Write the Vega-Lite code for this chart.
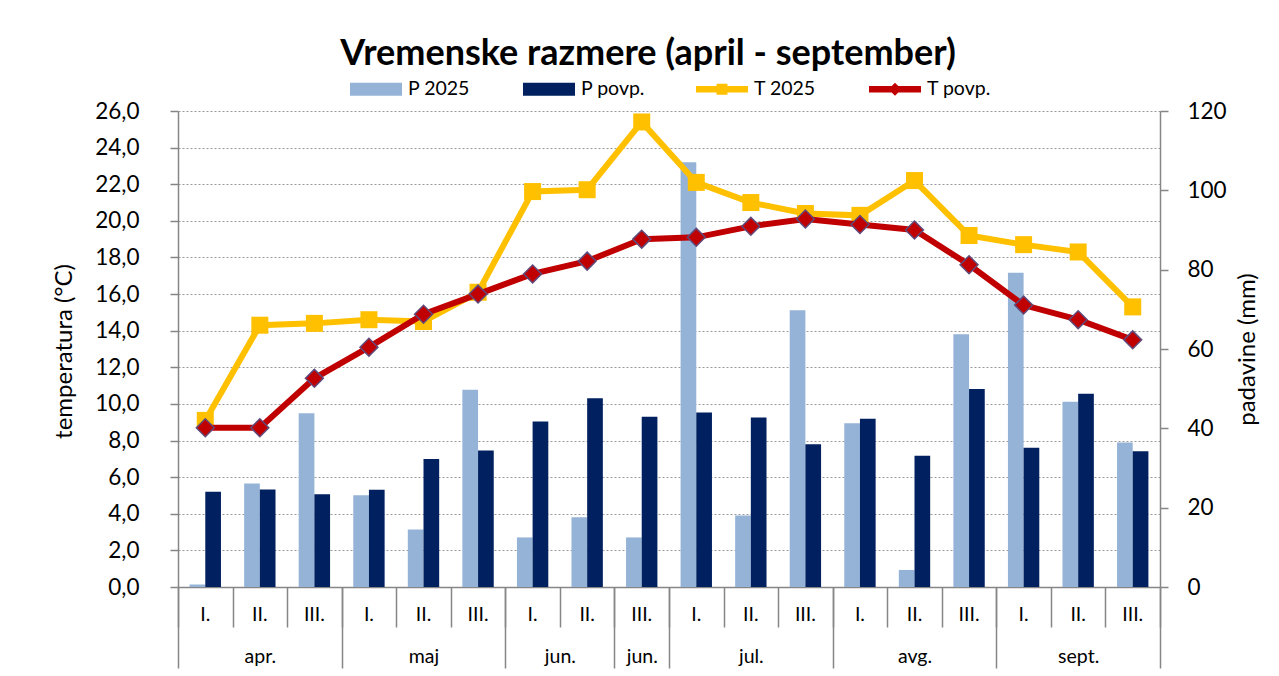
{
  "$schema": "https://vega.github.io/schema/vega-lite/v6.json",
  "width": 982,
  "height": 476,
  "autosize": "none",
  "padding": {"left": 178, "top": 111, "right": 119, "bottom": 89},
  "background": "white",
  "config": {"font": "Lato", "view": {"stroke": null}},
  "title": {"text": "Vremenske razmere (april -  september)", "fontSize": 36, "fontWeight": "bold", "color": "black", "anchor": "middle", "dx": -21, "offset": 3},
  "data": {"values": [
    {"dekada": "apr. I.", "P2025": 0.6, "Ppovp": 24.0, "T2025": 9.1, "Tpovp": 8.7},
    {"dekada": "apr. II.", "P2025": 26.1, "Ppovp": 24.6, "T2025": 14.3, "Tpovp": 8.7},
    {"dekada": "apr. III.", "P2025": 43.8, "Ppovp": 23.4, "T2025": 14.4, "Tpovp": 11.4},
    {"dekada": "maj I.", "P2025": 23.1, "Ppovp": 24.5, "T2025": 14.6, "Tpovp": 13.1},
    {"dekada": "maj II.", "P2025": 14.5, "Ppovp": 32.3, "T2025": 14.5, "Tpovp": 14.9},
    {"dekada": "maj III.", "P2025": 49.7, "Ppovp": 34.4, "T2025": 16.1, "Tpovp": 16.0},
    {"dekada": "jun. I.", "P2025": 12.5, "Ppovp": 41.7, "T2025": 21.6, "Tpovp": 17.1},
    {"dekada": "jun. II.", "P2025": 17.6, "Ppovp": 47.6, "T2025": 21.7, "Tpovp": 17.8},
    {"dekada": "jun. III.", "P2025": 12.5, "Ppovp": 42.9, "T2025": 25.4, "Tpovp": 19.0},
    {"dekada": "jul. I.", "P2025": 107.1, "Ppovp": 44.0, "T2025": 22.1, "Tpovp": 19.1},
    {"dekada": "jul. II.", "P2025": 18.0, "Ppovp": 42.7, "T2025": 21.0, "Tpovp": 19.7},
    {"dekada": "jul. III.", "P2025": 69.8, "Ppovp": 36.0, "T2025": 20.4, "Tpovp": 20.1},
    {"dekada": "avg. I.", "P2025": 41.3, "Ppovp": 42.4, "T2025": 20.3, "Tpovp": 19.8},
    {"dekada": "avg. II.", "P2025": 4.3, "Ppovp": 33.1, "T2025": 22.2, "Tpovp": 19.5},
    {"dekada": "avg. III.", "P2025": 63.7, "Ppovp": 49.9, "T2025": 19.2, "Tpovp": 17.6},
    {"dekada": "sept. I.", "P2025": 79.2, "Ppovp": 35.1, "T2025": 18.7, "Tpovp": 15.4},
    {"dekada": "sept. II.", "P2025": 46.7, "Ppovp": 48.7, "T2025": 18.3, "Tpovp": 14.6},
    {"dekada": "sept. III.", "P2025": 36.4, "Ppovp": 34.2, "T2025": 15.3, "Tpovp": 13.5}
  ]},
  "resolve": {"scale": {"x": "independent", "y": "independent"}, "axis": {"x": "independent", "y": "independent"}},
  "layer": [
    {
      "transform": [{"fold": ["P2025", "Ppovp"], "as": ["serija", "padavine"]}],
      "mark": {"type": "bar"},
      "encoding": {
        "x": {"field": "dekada", "type": "nominal", "sort": null,
          "scale": {"paddingInner": 0.425, "paddingOuter": 0.2125},
          "axis": {"orient": "bottom", "title": null, "labelExpr": "split(datum.label, ' ')[1]", "tickSize": 40, "tickOpacity": 0, "domainColor": "#868686", "domainWidth": 1.5, "labelFontSize": 19.5, "labelColor": "black", "labelBaseline": "middle", "labelPadding": -13, "labelAngle": 0, "grid": false}},
        "xOffset": {"field": "serija", "type": "nominal", "scale": {"domain": ["P2025", "Ppovp"]}},
        "y": {"field": "padavine", "type": "quantitative", "scale": {"domain": [0, 120], "nice": false},
          "axis": {"orient": "right", "values": [0, 20, 40, 60, 80, 100, 120], "title": "padavine (mm)", "grid": false, "domainColor": "#868686", "domainWidth": 1.5, "tickColor": "#868686", "tickWidth": 1.5, "tickSize": 8, "labelPadding": 19, "labelFontSize": 22.5, "labelColor": "black", "titleFontSize": 24, "titleFontWeight": "normal", "titleColor": "black", "titleAngle": 270, "titleX": 87, "titleY": 238, "titleAlign": "center", "titleBaseline": "middle"}},
        "color": {"field": "serija", "type": "nominal",
          "scale": {"domain": ["P2025", "Ppovp", "T2025", "Tpovp"], "range": ["#95B3D7", "#002060", "#FFC000", "#C00000"]},
          "legend": {"orient": "none", "legendX": 172, "legendY": -35, "direction": "horizontal", "columns": 4, "title": null, "gridAlign": "all", "columnPadding": 50, "symbolSize": 676, "symbolOffset": 13, "labelOffset": 19, "labelFontSize": 19.5, "labelColor": "black",
            "labelExpr": "datum.label == 'P2025' ? 'P 2025' : datum.label == 'Ppovp' ? 'P povp.' : datum.label == 'T2025' ? 'T 2025' : 'T povp.'",
            "encode": {"symbols": {"update": {"shape": {"signal": "datum.value == 'T2025' ? 'M-2,-0.25H2V0.25H-2Z M-0.42,-0.42H0.42V0.42H-0.42Z' : datum.value == 'Tpovp' ? 'M-2,-0.25H2V0.25H-2Z M0,-0.5L0.5,0L0,0.5L-0.5,0Z' : 'M-2,-0.5H2V0.5H-2Z'"}, "strokeWidth": {"value": 0}}}}}}
      }
    },
    {
      "layer": [
        {
          "mark": {"type": "line", "color": "#FFC000", "strokeWidth": 6, "point": {"shape": "square", "size": 289, "filled": true, "fill": "#FFC000"}},
          "encoding": {
            "x": {"field": "dekada", "type": "nominal", "sort": null, "scale": {"paddingInner": 0.425, "paddingOuter": 0.2125}, "axis": null},
            "y": {"field": "T2025", "type": "quantitative", "scale": {"domain": [0, 26], "nice": false},
              "axis": {"orient": "left", "values": [0, 2, 4, 6, 8, 10, 12, 14, 16, 18, 20, 22, 24, 26], "labelExpr": "replace(format(datum.value, '.1f'), '.', ',')", "title": "temperatura (°C)", "grid": true, "gridColor": "#999999", "gridDash": [2, 2], "gridWidth": 1, "domainColor": "#868686", "domainWidth": 1.5, "tickColor": "#868686", "tickWidth": 1.5, "tickSize": 8, "labelPadding": 31, "labelFontSize": 22.5, "labelColor": "black", "titleFontSize": 24, "titleFontWeight": "normal", "titleColor": "black", "titleAngle": 270, "titleX": -114, "titleY": 240, "titleAlign": "center", "titleBaseline": "middle"}}
          }
        },
        {
          "mark": {"type": "line", "color": "#C00000", "strokeWidth": 6, "point": {"shape": "diamond", "size": 320, "filled": true, "fill": "#C00000", "stroke": "#604A7B", "strokeWidth": 1.5}},
          "encoding": {
            "x": {"field": "dekada", "type": "nominal", "sort": null, "scale": {"paddingInner": 0.425, "paddingOuter": 0.2125}, "axis": null},
            "y": {"field": "Tpovp", "type": "quantitative", "scale": {"domain": [0, 26], "nice": false},
              "axis": {"orient": "left", "values": [0, 2, 4, 6, 8, 10, 12, 14, 16, 18, 20, 22, 24, 26], "labelExpr": "replace(format(datum.value, '.1f'), '.', ',')", "title": "temperatura (°C)", "grid": true, "gridColor": "#999999", "gridDash": [2, 2], "gridWidth": 1, "domainColor": "#868686", "domainWidth": 1.5, "tickColor": "#868686", "tickWidth": 1.5, "tickSize": 8, "labelPadding": 31, "labelFontSize": 22.5, "labelColor": "black", "titleFontSize": 24, "titleFontWeight": "normal", "titleColor": "black", "titleAngle": 270, "titleX": -114, "titleY": 240, "titleAlign": "center", "titleBaseline": "middle"}}
          }
        }
      ]
    },
    {
      "mark": {"type": "point", "opacity": 0},
      "encoding": {
        "x": {"datum": 0, "type": "quantitative", "scale": {"domain": [0, 18], "nice": false, "zero": false},
          "axis": {"orient": "bottom", "title": null, "values": [1.5, 4.5, 7, 8.5, 10.5, 13.5, 16.5], "labelExpr": "datum.value == 1.5 ? 'apr.' : datum.value == 4.5 ? 'maj' : datum.value == 7 ? 'jun.' : datum.value == 8.5 ? 'jun.' : datum.value == 10.5 ? 'jul.' : datum.value == 13.5 ? 'avg.' : 'sept.'", "ticks": false, "tickSize": 0, "domain": false, "grid": false, "labelPadding": 69, "labelBaseline": "middle", "labelFontSize": 19.5, "labelColor": "black", "labelAngle": 0, "labelFlush": false, "labelOverlap": false}}
      }
    },
    {
      "mark": {"type": "point", "opacity": 0},
      "encoding": {
        "x": {"datum": 0, "type": "quantitative", "scale": {"domain": [0, 18], "nice": false, "zero": false},
          "axis": {"orient": "bottom", "title": null, "values": [0, 1, 2, 3, 4, 5, 6, 7, 8, 9, 10, 11, 12, 13, 14, 15, 16, 17, 18], "labels": false, "domain": false, "grid": false, "ticks": true, "tickSize": 40, "tickColor": "#868686", "tickWidth": 1.5}}
      }
    },
    {
      "mark": {"type": "point", "opacity": 0},
      "encoding": {
        "x": {"datum": 0, "type": "quantitative", "scale": {"domain": [0, 18], "nice": false, "zero": false},
          "axis": {"orient": "bottom", "title": null, "values": [0, 3, 6, 8, 9, 12, 15, 18], "labels": false, "domain": false, "grid": false, "ticks": true, "tickSize": 81, "tickColor": "#868686", "tickWidth": 1.5}}
      }
    }
  ]
}
